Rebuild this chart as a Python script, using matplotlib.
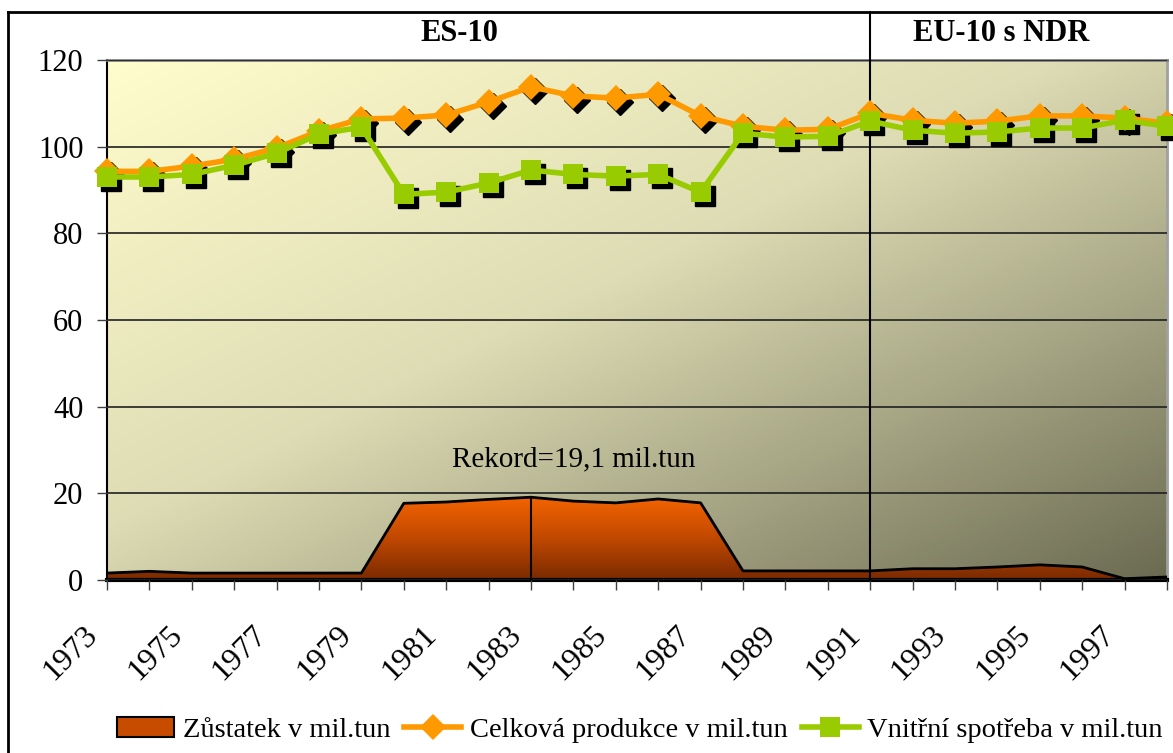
import numpy as np
import matplotlib
matplotlib.use("Agg")
import matplotlib.pyplot as plt
import matplotlib.transforms as mtransforms
from matplotlib.colors import LinearSegmentedColormap
from matplotlib.lines import Line2D
from matplotlib.patches import Patch

plt.rcParams['font.family'] = ['Liberation Serif', 'DejaVu Serif']

# data
years = list(range(1973, 1999))
produkce = [94.3, 94.3, 95.5, 97.1, 99.7, 103.6, 106.4, 106.6, 107.3, 110.3,
            113.8, 111.7, 111.2, 112.1, 107.1, 104.7, 103.8, 104.0, 107.7,
            106.1, 105.4, 105.9, 107.1, 107.1, 106.6, 105.4]
spotreba = [93.0, 93.0, 93.6, 95.7, 98.5, 102.9, 104.5, 89.0, 89.5, 91.6,
            94.6, 93.6, 93.2, 93.6, 89.5, 103.1, 102.2, 102.4, 105.9,
            103.8, 103.1, 103.4, 104.3, 104.3, 106.1, 104.7]
zustatek = [1.6, 2.0, 1.6, 1.6, 1.6, 1.6, 1.6, 17.7, 18.0, 18.6,
            19.1, 18.2, 17.8, 18.7, 17.8, 2.1, 2.1, 2.1, 2.1,
            2.6, 2.6, 3.0, 3.5, 3.0, 0.3, 0.7]
label_years = [str(y) if (y - 1973) % 2 == 0 else '' for y in years]
yticks = [0, 20, 40, 60, 80, 100, 120]

fig = plt.figure(figsize=(11.73, 7.53), dpi=100)
ax = fig.add_axes([107 / 1173, 1 - 580 / 753, 1060 / 1173, 520 / 753])
ax.set_xlim(1973, 1998)
ax.set_ylim(0, 120)

# diagonal gradient background
n = 300
xx, yy = np.meshgrid(np.linspace(0, 1, n), np.linspace(1, 0, n))
t = (xx + (1 - yy)) / 2
bg_cmap = LinearSegmentedColormap.from_list(
    'bg', [(0, '#fffdcc'), (0.45, '#dedcb4'), (1, '#6b6b52')])
ax.imshow(t, cmap=bg_cmap, extent=[0, 1, 0, 1], transform=ax.transAxes,
          aspect='auto', zorder=0, interpolation='bilinear')

ax.yaxis.grid(True, color='#202020', linewidth=1.2, zorder=1)
ax.set_axisbelow(False)

# area with vertical gradient
area = ax.fill_between(years, zustatek, 0, facecolor='none', zorder=2)
area_cmap = LinearSegmentedColormap.from_list('area', ['#7a2a00', '#c04800', '#f46400'])
grad = np.linspace(1, 0, 200).reshape(-1, 1)
img = ax.imshow(grad, cmap=area_cmap, extent=[1973, 1998, 0, max(zustatek)],
                aspect='auto', zorder=2, interpolation='bilinear', vmin=0, vmax=1)
img.set_clip_path(area.get_paths()[0], transform=ax.transData)
ax.plot(years, zustatek, color='black', linewidth=2, zorder=3)

# separator and record lines
ax.plot([1991, 1991], [0, 131.1], color='black', linewidth=1.5, clip_on=False, zorder=4)
ax.plot([1983, 1983], [0, 19.1], color='black', linewidth=1.5, zorder=4)

# marker shadows
shadow = ax.transData + mtransforms.ScaledTranslation(0.04, -0.04, fig.dpi_scale_trans)
ax.plot(years, produkce, linestyle='none', marker='D', markersize=13,
        color='black', transform=shadow, clip_on=False, zorder=5)
ax.plot(years, spotreba, linestyle='none', marker='s', markersize=15,
        color='black', transform=shadow, clip_on=False, zorder=5)

ax.plot(years, produkce, color='#ff9900', linewidth=4, marker='D', markersize=13,
        markeredgewidth=0, clip_on=False, zorder=6)
ax.plot(years, spotreba, color='#99cc00', linewidth=4, marker='s', markersize=15,
        markeredgewidth=0, clip_on=False, zorder=7)

ax.text(1984.0, 27.9, 'Rekord=19,1 mil.tun', fontsize=21, ha='center', va='center', zorder=8)
ax.text(1981.3, 126.2, 'ES-10', fontsize=22, fontweight='bold', ha='center', va='center')
ax.text(1994.1, 126.2, 'EU-10 s NDR', fontsize=22, fontweight='bold', ha='center', va='center')

ax.set_xticks(years)
ax.set_xticklabels(label_years, rotation=45, ha='right', va='center',
                   rotation_mode='anchor', fontsize=23)
ax.set_yticks(yticks)
ax.set_yticklabels([str(v) for v in yticks], fontsize=22)
ax.tick_params(axis='x', length=7, width=1, color='#404040', pad=16)
ax.tick_params(axis='y', length=7, width=1, color='#404040', pad=10)
shift = mtransforms.ScaledTranslation(-0.14, -0.19, fig.dpi_scale_trans)
for lab in ax.get_xticklabels():
    lab.set_transform(lab.get_transform() + shift)

ax.spines['bottom'].set_linewidth(3)
ax.spines['left'].set_linewidth(1.5)
ax.spines['top'].set_color('#808080')
ax.spines['top'].set_linewidth(2)
ax.spines['right'].set_color('#a0a0a0')
ax.spines['right'].set_linewidth(2)

# figure frame (left and top)
fig.add_artist(Line2D([8 / 1173, 8 / 1173], [0, 1 - 12 / 753], color='black', linewidth=2))
fig.add_artist(Line2D([8 / 1173, 1], [1 - 12 / 753, 1 - 12 / 753], color='black', linewidth=2))

handles = [Patch(facecolor='#c84c00', edgecolor='black', linewidth=1.5),
           Line2D([], [], color='#ff9900', linewidth=4, marker='D', markersize=13, markeredgewidth=0),
           Line2D([], [], color='#99cc00', linewidth=4, marker='s', markersize=15, markeredgewidth=0)]
labels = ['Zůstatek v mil.tun', 'Celková produkce v mil.tun', 'Vnitřní spotřeba v mil.tun']
fig.legend(handles, labels, loc='center', bbox_to_anchor=(640 / 1173, 1 - 730 / 753), ncol=3,
           frameon=False, fontsize=20.5, handlelength=2.0, handletextpad=0.3,
           columnspacing=0.5, borderpad=0)

fig.savefig('out.png', dpi=100)
